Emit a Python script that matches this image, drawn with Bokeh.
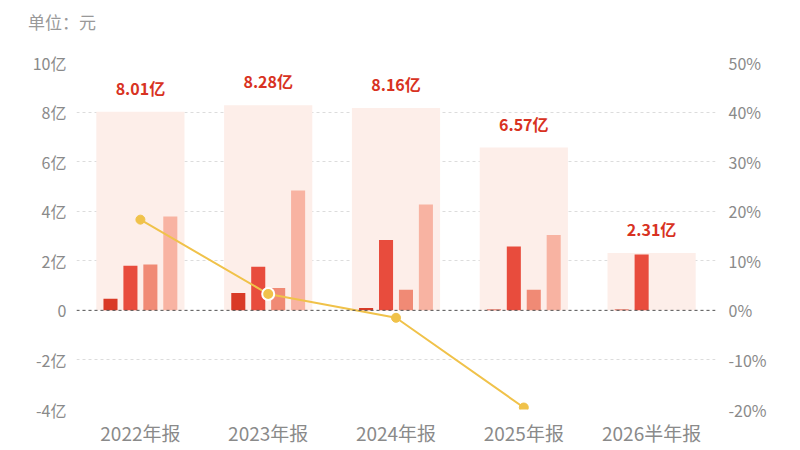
from bokeh.core.properties import value
from bokeh.embed import file_html
from bokeh.layouts import column
from bokeh.models import (ColumnDataSource, Div, FactorRange, FixedTicker,
                          LinearAxis, Range1d, Span)
from bokeh.plotting import figure
from bokeh.resources import INLINE
from bokeh.transform import dodge

FONT = "Noto Sans CJK SC"

categories = ["2022年报", "2023年报", "2024年报", "2025年报", "2026半年报"]
totals = [8.01, 8.28, 8.16, 6.57, 2.31]          # 亿
part1 = [0.47, 0.70, 0.10, 0.03, 0.03]
part2 = [1.80, 1.76, 2.84, 2.58, 2.25]
part3 = [1.85, 0.90, 0.83, 0.83, 0.0]
part4 = [3.79, 4.84, 4.27, 3.04, 0.0]
growth_cats = ["2022年报", "2023年报", "2024年报", "2025年报"]
growth = [18.3, 3.3, -1.5, -19.6]                # %

left_ticks = [-4, -2, 0, 2, 4, 6, 8, 10]
right_ticks = [-20, -10, 0, 10, 20, 30, 40, 50]

src = ColumnDataSource(dict(
    cat=categories, total=totals, p1=part1, p2=part2, p3=part3, p4=part4,
    label=["%.2f亿" % t for t in totals],
))
gsrc = ColumnDataSource(dict(cat=growth_cats, g=growth))

p = figure(x_range=FactorRange(factors=categories, range_padding=0),
           y_range=Range1d(-4, 10), width=800, height=410,
           output_backend="svg", toolbar_location=None,
           min_border_left=76, min_border_right=85,
           min_border_top=22, min_border_bottom=41)
p.outline_line_color = None
p.background_fill_color = "white"
p.border_fill_color = "white"

# grid
p.xgrid.grid_line_color = None
p.ygrid.ticker = FixedTicker(ticks=left_ticks)
p.ygrid.grid_line_color = "#dcdcdc"
p.ygrid.grid_line_dash = "3 3"
p.add_layout(Span(location=0, dimension="width", line_color="#555555",
                  line_dash="3 3", line_width=1))

# background total bars
p.vbar(x="cat", top="total", bottom=0, width=0.69, source=src,
       fill_color="#fdeee9", line_color=None)

colors = ["#d93a26", "#e84c3d", "#f08a75", "#f8b3a2"]
offsets = [-0.234, -0.078, 0.078, 0.234]
for col, off, c in zip(["p1", "p2", "p3", "p4"], offsets, colors):
    p.vbar(x=dodge("cat", off, range=p.x_range), top=col, bottom=0,
           width=0.11, source=src, fill_color=c, line_color=None)

p.text(x="cat", y="total", text="label", source=src, y_offset=-12,
       text_align="center", text_baseline="bottom", text_color="#d83222",
       text_font=value(FONT), text_font_size="16px", text_font_style="bold")

# growth line on right axis
p.extra_y_ranges = {"pct": Range1d(-20, 50)}
p.line(x="cat", y="g", source=gsrc, y_range_name="pct",
       line_color="#f0c24a", line_width=2)
p.scatter(x="cat", y="g", source=gsrc, y_range_name="pct", size=9,
          fill_color="#f0c24a", line_color="#f0c24a")
hl = ColumnDataSource(dict(cat=growth_cats[1:2], g=growth[1:2]))
p.scatter(x="cat", y="g", source=hl, y_range_name="pct", size=12,
          fill_color="#f0c24a", line_color="white", line_width=2)

# axes
def style_axis(ax):
    ax.axis_line_color = None
    ax.major_tick_line_color = None
    ax.minor_tick_line_color = None
    ax.major_tick_out = 0
    ax.major_tick_in = 0
    ax.major_label_text_color = "#8a8a8a"
    ax.major_label_text_font = FONT

ya = p.yaxis[0]
style_axis(ya)
ya.ticker = FixedTicker(ticks=left_ticks)
ya.major_label_overrides = {t: ("0" if t == 0 else "%d亿" % t) for t in left_ticks}
ya.major_label_text_font_size = "16px"
ya.major_label_standoff = 10

ra = LinearAxis(y_range_name="pct", ticker=FixedTicker(ticks=right_ticks))
style_axis(ra)
ra.major_label_overrides = {t: "%d%%" % t for t in right_ticks}
ra.major_label_text_font_size = "16px"
ra.major_label_standoff = 13
p.add_layout(ra, "right")

xa = p.xaxis[0]
style_axis(xa)
xa.major_label_text_font_size = "19px"
xa.major_label_standoff = 9

unit = Div(text="单位：元", width=800, height=40, margin=0,
           styles={"padding-left": "28px", "padding-top": "10px",
                   "color": "#999999", "font-size": "17px",
                   "font-family": FONT})

layout = column(unit, p, spacing=0)
open("out.html", "w").write(file_html(layout, INLINE))
